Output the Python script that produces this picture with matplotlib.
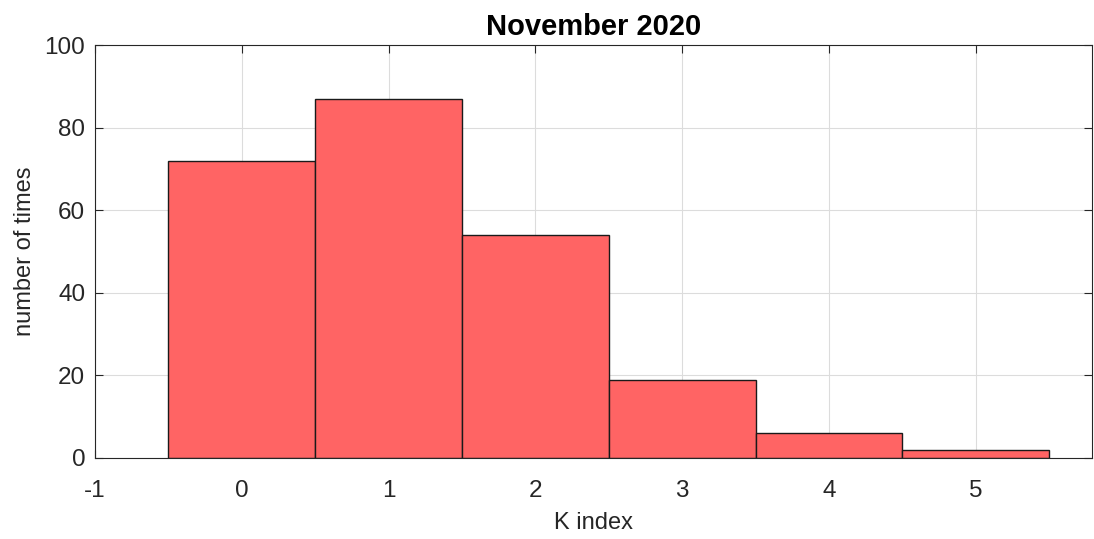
import numpy as np
import matplotlib.pyplot as plt

plt.rcParams['font.family'] = ['Liberation Sans', 'DejaVu Sans']
plt.rcParams['axes.unicode_minus'] = False

k_index = [0, 1, 2, 3, 4, 5]
counts = [72, 87, 54, 19, 6, 2]
xticks = [-1, 0, 1, 2, 3, 4, 5]
yticks = [0, 20, 40, 60, 80, 100]

fig = plt.figure(figsize=(10.94, 5.39), dpi=100)
ax = fig.add_axes([0.0868, 0.1503, 0.9112, 0.7662])

ax.bar(k_index, counts, width=1.0, color='#ff6464', edgecolor='#1a1a1a',
       linewidth=1.0, zorder=3)

ax.set_xlim(-1, 5.79)
ax.set_ylim(0, 100)
ax.set_xticks(xticks)
ax.set_yticks(yticks)
ax.grid(True, color='#dcdcdc', linewidth=0.8, zorder=0)
ax.tick_params(direction='in', top=True, right=True, length=6,
               labelsize=17.5, colors='#262626', width=0.8)
ax.tick_params(axis='x', pad=16)
ax.tick_params(axis='y', pad=7)
for s in ax.spines.values():
    s.set_color('#262626')
    s.set_linewidth(0.8)
    s.set_zorder(4)

ax.set_xlabel('K index', fontsize=17, color='#262626', labelpad=7)
ax.set_ylabel('number of times', fontsize=17, color='#262626', labelpad=6)
ax.set_title('November 2020', fontsize=21, fontweight='bold', pad=7)

plt.savefig('out.png')
